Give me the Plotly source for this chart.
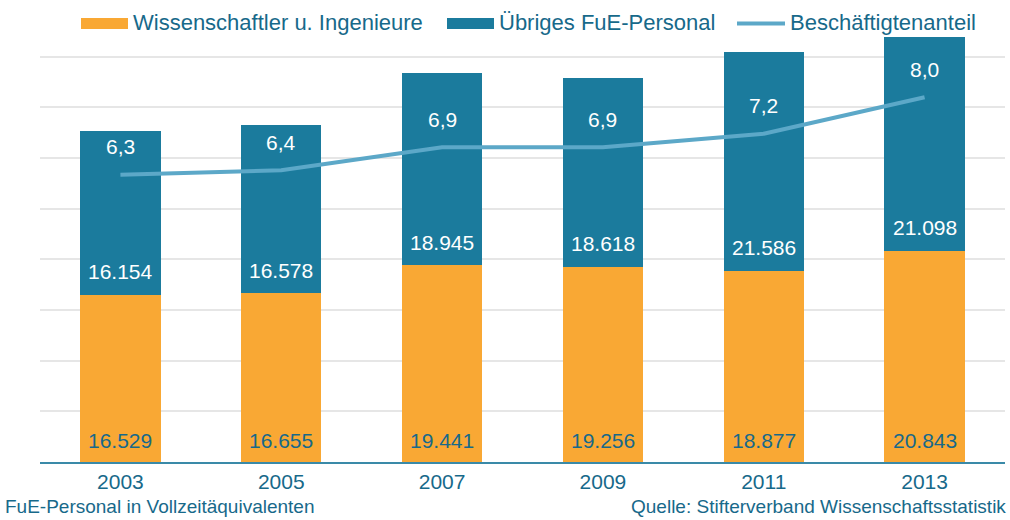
import plotly.graph_objects as go

years = ["2003", "2005", "2007", "2009", "2011", "2013"]
wiss = [16529, 16655, 19441, 19256, 18877, 20843]
uebrig = [16154, 16578, 18945, 18618, 21586, 21098]
anteil = [6.3, 6.4, 6.9, 6.9, 7.2, 8.0]

names = ["Wissenschaftler u. Ingenieure", "Übriges FuE-Personal", "Beschäftigtenanteil"]

ORANGE = "#F9A834"
TEAL = "#1B7B9D"
LINE = "#5CA8C8"
TXT = "#17698A"
FONT = "Liberation Sans, Arial, sans-serif"


def de(n):
    return f"{n:,}".replace(",", ".")


def de1(v):
    return f"{v:.1f}".replace(".", ",")


fig = go.Figure()
fig.add_trace(go.Bar(x=years, y=wiss, name=names[0], marker=dict(color=ORANGE, line=dict(width=0)),
                     showlegend=False, hoverinfo="skip"))
fig.add_trace(go.Bar(x=years, y=uebrig, name=names[1], marker=dict(color=TEAL, line=dict(width=0)),
                     showlegend=False, hoverinfo="skip"))
fig.add_trace(go.Scatter(x=years, y=anteil, name=names[2], yaxis="y2", mode="lines",
                         line=dict(color=LINE, width=4), showlegend=False, hoverinfo="skip"))

ann = []
for i, yr in enumerate(years):
    ann.append(dict(x=i, y=0, xref="x", yref="y", text=de(wiss[i]), showarrow=False,
                    yanchor="middle", yshift=22, font=dict(size=21, color=TXT, family=FONT)))
    ann.append(dict(x=i, y=wiss[i], xref="x", yref="y", text=de(uebrig[i]), showarrow=False,
                    yanchor="middle", yshift=23, font=dict(size=21, color="white", family=FONT)))
    ann.append(dict(x=i, y=anteil[i], xref="x", yref="y2", text=de1(anteil[i]), showarrow=False,
                    yanchor="middle", yshift=28, font=dict(size=21, color="white", family=FONT)))

PL, PR, PT, PB = 40, 1005, 6, 462


def px_x(x):
    return (x - PL) / (PR - PL)


def px_y(y):
    return (PB - y) / (PB - PT)


shapes = []
shapes.append(dict(type="rect", xref="paper", yref="paper", x0=px_x(81), x1=px_x(128), y0=px_y(29), y1=px_y(18),
                   fillcolor=ORANGE, line=dict(width=0)))
shapes.append(dict(type="rect", xref="paper", yref="paper", x0=px_x(447), x1=px_x(494), y0=px_y(29), y1=px_y(18),
                   fillcolor=TEAL, line=dict(width=0)))
shapes.append(dict(type="line", xref="paper", yref="paper", x0=px_x(737), x1=px_x(785), y0=px_y(23.5), y1=px_y(23.5),
                   line=dict(color=LINE, width=4)))
leg_x = [133, 499, 790]
for nm, lx in zip(names, leg_x):
    ann.append(dict(x=px_x(lx), y=px_y(23), xref="paper", yref="paper", text=nm, showarrow=False,
                    xanchor="left", yanchor="middle", xshift=-2, font=dict(size=22, color=TXT, family=FONT)))

ann.append(dict(x=px_x(5), y=px_y(507), xref="paper", yref="paper", text="FuE-Personal in Vollzeitäquivalenten",
                showarrow=False, xanchor="left", yanchor="middle", xshift=-2, font=dict(size=19, color=TXT, family=FONT)))
ann.append(dict(x=px_x(1006), y=px_y(507), xref="paper", yref="paper", text="Quelle: Stifterverband Wissenschaftsstatistik",
                showarrow=False, xanchor="right", yanchor="middle", xshift=2, font=dict(size=19, color=TXT, family=FONT)))

fig.update_layout(
    width=1010, height=520,
    margin=dict(l=PL, r=1010 - PR, t=PT, b=520 - PB, autoexpand=False),
    barmode="stack", bargap=0.5,
    plot_bgcolor="white", paper_bgcolor="white",
    font=dict(family=FONT, color=TXT),
    xaxis=dict(type="category", showgrid=False, showline=True, linecolor="#3A8AA8", linewidth=2,
               ticks="", automargin=False, range=[-0.5, 5.5],
               tickfont=dict(size=21, color=TXT, family=FONT)),
    yaxis=dict(range=[0, 45000], dtick=5000, showgrid=True, gridcolor="#E6E6E6", gridwidth=1.5,
               showticklabels=False, zeroline=False, ticks="", automargin=False),
    yaxis2=dict(range=[0, 10], overlaying="y", side="right", visible=False),
    annotations=ann, shapes=shapes, showlegend=False,
)

fig.write_html("out.html", config={"displayModeBar": False},
               post_script="document.body.style.margin='0';document.body.style.overflow='hidden';")
